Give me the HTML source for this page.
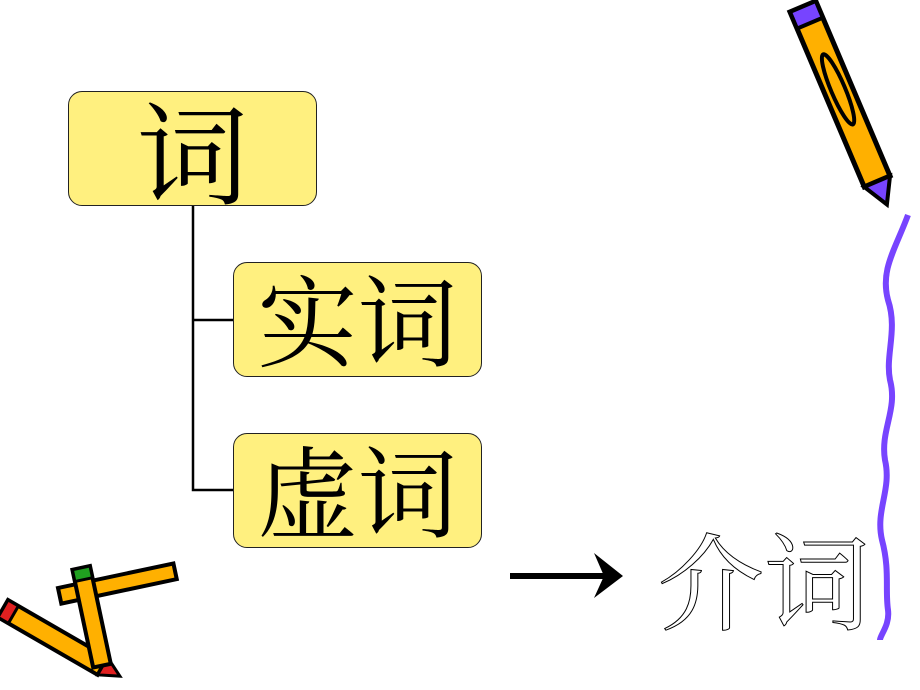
<!DOCTYPE html>
<html><head><meta charset="utf-8"><style>
body{margin:0;width:920px;height:690px;background:#fff;position:relative;overflow:hidden;font-family:"Liberation Serif","Noto Serif CJK SC",serif}
.b{position:absolute;background:#FFF07F;border:1px solid #222;border-radius:14px;box-sizing:border-box;text-align:center;color:#000;white-space:nowrap}
</style></head><body>
<div class="b" style="left:68px;top:91px;width:249px;height:115px;font-size:112px;line-height:135px">词</div>
<div class="b" style="left:233px;top:262px;width:249px;height:115px;font-size:100px;line-height:126px">实词</div>
<div class="b" style="left:233px;top:433px;width:249px;height:115px;font-size:100px;line-height:126px">虚词</div>
<svg width="920" height="690" style="position:absolute;left:0;top:0">
<path d="M193 206V490H233M193 320H233" stroke="#000" stroke-width="2.5" fill="none"/>
<path d="M510 576H606" stroke="#000" stroke-width="6"/>
<path d="M594 553L623 576L594 598L604 576Z" fill="#000"/>
<text x="658" y="622" font-size="106" fill="#fff" stroke="#000" stroke-width="1" font-family="Noto Serif CJK SC,serif">介词</text>
<path d="M908 215C895 250 880 270 888 300C898 330 885 355 890 380C898 410 880 430 885 460C892 490 875 510 882 540C890 570 885 590 888 610C890 625 880 635 880 640" stroke="#7744FF" stroke-width="6" fill="none"/>
<g transform="translate(790 12) rotate(-23)">
<rect x="0" y="0" width="28" height="190" fill="#FFB000" stroke="#000" stroke-width="5"/>
<rect x="0" y="0" width="28" height="18" fill="#7744FF" stroke="#000" stroke-width="4"/>
<path d="M0 190L14 215L28 190Z" fill="#7744FF" stroke="#000" stroke-width="4"/>
<ellipse cx="14" cy="90" rx="7" ry="38" fill="none" stroke="#000" stroke-width="4"/>
</g>
<g transform="translate(8 600) rotate(30)">
<rect x="0" y="0" width="115" height="20" fill="#FFB000" stroke="#000" stroke-width="4"/>
<rect x="0" y="0" width="12" height="20" fill="#E02020" stroke="#000" stroke-width="3"/>
<path d="M115 0L135 10L115 20Z" fill="#E02020" stroke="#000" stroke-width="3"/>
</g>
<g transform="translate(58 588) rotate(-12)">
<rect x="0" y="0" width="118" height="16" fill="#FFB000" stroke="#000" stroke-width="4"/>
</g>
<g transform="translate(90 566) rotate(78)">
<rect x="0" y="0" width="100" height="18" fill="#FFB000" stroke="#000" stroke-width="4"/>
<rect x="0" y="0" width="12" height="18" fill="#20A020" stroke="#000" stroke-width="3"/>
</g>
</svg>
</body></html>
